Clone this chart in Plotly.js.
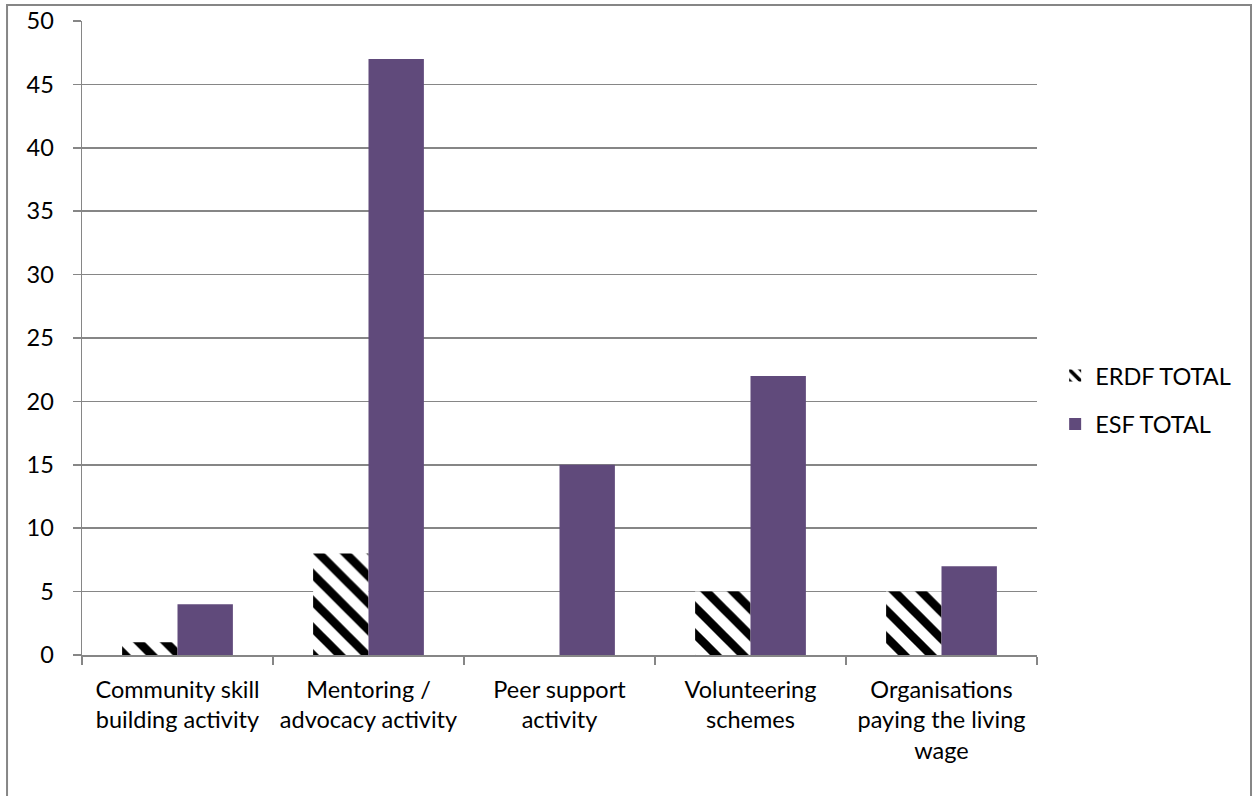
<!DOCTYPE html>
<html>
<head>
<meta charset="utf-8">
<script src="https://cdn.plot.ly/plotly-3.0.1.min.js"></script>
<style>
html,body{margin:0;padding:0;background:#fff;}
#chart{width:1255px;height:796px;}
</style>
</head>
<body>
<div id="chart"></div>
<script>
var categories = [
  "Community skill<br>building activity",
  "Mentoring /<br>advocacy activity",
  "Peer support<br>activity",
  "Volunteering<br>schemes",
  "Organisations<br>paying the living<br>wage"
];
var erdfValues = [1, 8, 0, 5, 5];
var esfValues = [4, 47, 15, 22, 7];
var seriesNames = ["ERDF TOTAL", "ESF TOTAL"];

var FONT = "Lato, 'Open Sans', sans-serif";
var GRAY = "#868686";
var FS = 23.5;

var traces = [
  {
    type: "bar",
    name: seriesNames[0],
    x: categories,
    y: erdfValues,
    legendgroup: "a",
    marker: {
      color: "#ffffff",
      line: {width: 0},
      pattern: {shape: "\\", fgcolor: "#000000", bgcolor: "#ffffff", size: 19, solidity: 0.45}
    },
    hoverinfo: "x+y"
  },
  {
    type: "bar",
    name: seriesNames[1],
    x: categories,
    y: esfValues,
    legendgroup: "b",
    marker: {color: "#604a7b", line: {width: 0}},
    hoverinfo: "x+y"
  }
];

var layout = {
  width: 1255,
  height: 796,
  margin: {l: 82, r: 218, t: 21, b: 141, pad: 0},
  paper_bgcolor: "#ffffff",
  plot_bgcolor: "#ffffff",
  font: {family: FONT, size: FS, color: "#000000"},
  barmode: "group",
  bargap: 0.42,
  bargroupgap: 0,
  showlegend: true,
  legend: {
    x: 1.019, y: 0.402, xanchor: "left", yanchor: "middle",
    font: {family: FONT, size: FS, color: "#000000"},
    traceorder: "grouped",
    tracegroupgap: 15,
    itemwidth: 30
  },
  xaxis: {
    type: "category",
    showline: true,
    linecolor: GRAY,
    linewidth: 1.5,
    ticks: "outside",
    tickson: "boundaries",
    ticklen: 8,
    tickcolor: GRAY,
    tickwidth: 1.5,
    showgrid: false,
    tickfont: {family: FONT, size: FS, color: "#000000"},
    ticklabelstandoff: 13,
    zeroline: false
  },
  yaxis: {
    range: [0, 50],
    dtick: 5,
    tick0: 0,
    showline: true,
    linecolor: GRAY,
    linewidth: 1.5,
    ticks: "outside",
    ticklen: 8,
    tickcolor: GRAY,
    tickwidth: 1.5,
    showgrid: true,
    gridcolor: GRAY,
    gridwidth: 1.5,
    zeroline: false,
    tickfont: {family: FONT, size: FS, color: "#000000"},
    ticklabelstandoff: 14
  },
  shapes: [
    {
      type: "rect", xref: "paper", yref: "paper", layer: "above",
      x0: -0.0785, x1: 1.2241, y0: -0.35, y1: 1.0252,
      line: {color: GRAY, width: 2}, fillcolor: "rgba(0,0,0,0)"
    }
  ]
};

Plotly.newPlot("chart", traces, layout, {displayModeBar: false, staticPlot: true});
</script>
</body>
</html>
